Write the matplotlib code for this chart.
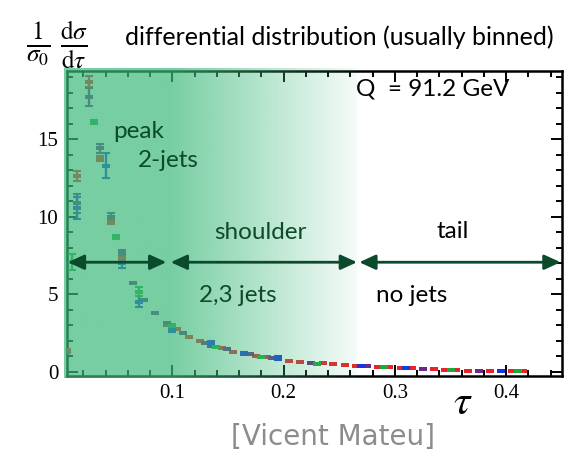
import numpy as np
import matplotlib
matplotlib.use("Agg")
import matplotlib.pyplot as plt
from matplotlib.ticker import MultipleLocator

# data (tau, 1/sigma dsigma/dtau, error)
red_x = [0.005, 0.0144, 0.0249, 0.0345, 0.0444, 0.0546, 0.095, 0.1045, 0.1147, 0.1246,
         0.1447, 0.1546, 0.1748, 0.1847, 0.205, 0.2147, 0.235, 0.2447, 0.2552, 0.2651,
         0.2852, 0.2951, 0.3054, 0.3153, 0.3354, 0.3453, 0.3552, 0.3654, 0.3852, 0.4054, 0.4153]
red_y = [1.3, 12.6, 18.7, 13.75, 9.66, 7.35, 3.0, 2.72, 2.25, 1.97,
         1.5, 1.28, 1.02, 0.91, 0.68, 0.61, 0.53, 0.46, 0.40, 0.38,
         0.27, 0.27, 0.23, 0.22, 0.15, 0.10, 0.10, 0.05, 0.05, 0.04, 0.04]
red_err = [0.12, 0.33, 0.37, 0.15, 0.15, 0.15] + [0.0] * 25

purple_x = [0.0144, 0.0249, 0.0345, 0.0444, 0.0546, 0.0645, 0.0744, 0.0847, 0.0949, 0.1096,
            0.1297, 0.1495, 0.1696, 0.1897, 0.2246, 0.2753, 0.3252, 0.3753]
purple_y = [10.85, 17.7, 14.4, 10.0, 7.65, 5.73, 4.6, 3.8, 3.15, 2.46,
            1.86, 1.43, 1.1, 0.87, 0.57, 0.36, 0.16, 0.05]
purple_err = [0.6, 0.56, 0.3, 0.2, 0.2] + [0.0] * 13

blue_x = [0.0144, 0.040, 0.0546, 0.0696, 0.0996, 0.1345, 0.1645, 0.1946, 0.270, 0.3102, 0.3955]
blue_y = [10.55, 13.27, 7.0, 4.5, 2.68, 1.75, 1.17, 0.87, 0.37, 0.23, 0.05]
blue_err = [0.72, 0.8, 0.3, 0.35, 0.15, 0.2, 0.1, 0.1, 0.0, 0.0, 0.0]

green_x = [0.0099, 0.0294, 0.0495, 0.0696, 0.0996, 0.1396, 0.1795, 0.2297, 0.2904, 0.3505, 0.4104]
green_y = [7.08, 16.1, 8.7, 5.15, 2.93, 1.6, 0.95, 0.5, 0.27, 0.1, 0.04]
green_err = [0.5, 0.15, 0.12, 0.3, 0.15, 0.0, 0.0, 0.0, 0.0, 0.0, 0.0]

series = [
    (red_x, red_y, red_err, "#e8242a"),
    (purple_x, purple_y, purple_err, "#6a2a86"),
    (blue_x, blue_y, blue_err, "#1834e0"),
    (green_x, green_y, green_err, "#1fa83a"),
]

xmin, xmax = 0.005, 0.45
ymin, ymax = -0.27, 19.42
dark_green = "#0b4a2a"
sans = ["Lato", "DejaVu Sans"]

plt.rcParams["mathtext.fontset"] = "stix"

fig = plt.figure(figsize=(5.79, 4.59), dpi=100)
ax = fig.add_axes([0.1152, 0.1815, 0.9701 - 0.1152, 0.8464 - 0.1815])

# rectangular markers like the original
rect = [(-1, -0.65), (1, -0.65), (1, 0.65), (-1, 0.65), (-1, -0.65)]
for x, y, e, c in series:
    ax.errorbar(x, y, yerr=e, fmt="none", ecolor=c, elinewidth=1.7, capsize=2.8, capthick=1.5, zorder=3)
    ax.plot(x, y, linestyle="none", marker=rect, ms=5.5, color=c, mew=0, zorder=4)

# green shading that fades out towards the tail (drawn over points and frame)
gx = np.linspace(xmin, xmax, 600)
alpha = np.where(gx <= 0.1, 0.7, 0.7 - 0.65 * (gx - 0.1) / 0.167)
alpha[gx > 0.267] = 0.0
rgba = np.zeros((1, gx.size, 4))
rgba[..., 0] = 60 / 255
rgba[..., 1] = 185 / 255
rgba[..., 2] = 122 / 255
rgba[..., 3] = alpha
ax.imshow(rgba, extent=[xmin - 0.002, xmax, ymin - 0.15, ymax + 0.15], aspect="auto",
          interpolation="bilinear", zorder=6, clip_on=False)

ax.set_xlim(xmin, xmax)
ax.set_ylim(ymin, ymax)

for s in ax.spines.values():
    s.set_linewidth(1.8)
ax.xaxis.set_major_locator(MultipleLocator(0.1))
ax.xaxis.set_minor_locator(MultipleLocator(0.02))
ax.yaxis.set_major_locator(MultipleLocator(5))
ax.yaxis.set_minor_locator(MultipleLocator(1))
ax.tick_params(which="both", direction="in", top=True, right=True, width=1.4)
ax.tick_params(which="major", length=8, labelsize=15, pad=6)
ax.tick_params(which="minor", length=4.5)
ax.set_xticks([0.1, 0.2, 0.3, 0.4])
ax.set_xticklabels(["0.1", "0.2", "0.3", "0.4"], family="Liberation Serif")
ax.set_yticks([0, 5, 10, 15])
ax.set_yticklabels(["0", "5", "10", "15"], family="Liberation Serif")

# region arrows
arrow_y = 7.05
for x0, x1 in [(0.006, 0.0946), (0.0985, 0.266), (0.268, 0.449)]:
    ax.annotate("", xy=(x1, arrow_y), xytext=(x0, arrow_y), zorder=8,
                arrowprops=dict(arrowstyle="<|-|>,head_length=0.7,head_width=0.32",
                                color=dark_green, lw=2, mutation_scale=14,
                                shrinkA=0, shrinkB=0))

fs = 17.5
ax.text(0.0698, 15.5, "peak", color=dark_green, fontsize=fs, family=sans, ha="center", va="center", zorder=8)
ax.text(0.096, 13.6, "2-jets", color=dark_green, fontsize=fs, family=sans, ha="center", va="center", zorder=8)
ax.text(0.179, 9.0, "shoulder", color=dark_green, fontsize=fs, family=sans, ha="center", va="center", zorder=8)
ax.text(0.159, 4.9, "2,3 jets", color=dark_green, fontsize=fs, family=sans, ha="center", va="center", zorder=8)
ax.text(0.352, 9.06, "tail", color="black", fontsize=fs, family=sans, ha="center", va="center", zorder=8)
ax.text(0.315, 4.9, "no jets", color="black", fontsize=fs, family=sans, ha="center", va="center", zorder=8)
ax.text(0.3336, 18.2, "Q  = 91.2 GeV", color="black", fontsize=fs, family=sans, ha="center", va="center", zorder=8)

# axis label and header
fig.text(463 / 579, 1 - 402 / 459, r"$\tau$", fontsize=30, ha="center", va="center")
fig.text(57 / 579, 1 - 45 / 459, r"$\frac{1}{\sigma_0}\;\frac{\mathrm{d}\sigma}{\mathrm{d}\tau}$",
         fontsize=26, ha="center", va="center")
fig.text(339 / 579, 1 - 37 / 459, "differential distribution (usually binned)",
         fontsize=18, family=sans, ha="center", va="center")
fig.text(333 / 579, 1 - 437 / 459, "[Vicent Mateu]", fontsize=20, color="#8c8c8c",
         family="DejaVu Sans", ha="center", va="center")

fig.savefig("out.png", dpi=100)
